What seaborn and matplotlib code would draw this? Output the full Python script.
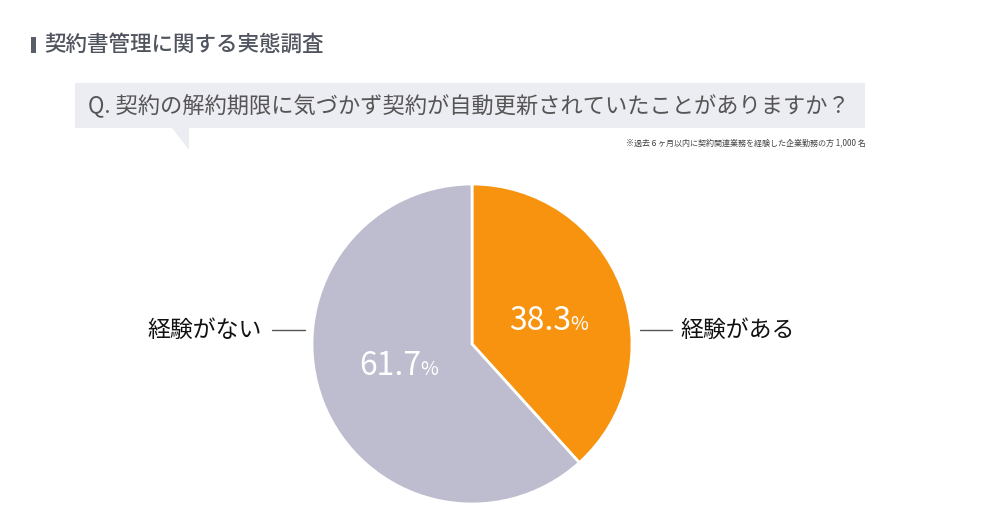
import numpy as np
import matplotlib.pyplot as plt
import matplotlib.patches as mpatches
import seaborn as sns

answers = ['経験がある', '経験がない']
shares = [38.3, 61.7]
slice_colors = ['#F7930F', '#BDBDCF']

title = '契約書管理に関する実態調査'
question = 'Q. 契約の解約期限に気づかず契約が自動更新されていたことがありますか？'
note = '※過去６ヶ月以内に契約関連業務を経験した企業勤務の方 1,000 名'

sns.set_theme(style='white')
plt.rcParams['font.family'] = ['Noto Sans CJK JP', 'DejaVu Sans']

H = 528
fig = plt.figure(figsize=(10, 5.28), dpi=100)
fig.patch.set_facecolor('white')
ax = fig.add_axes([0, 0, 1, 1])

# pie, clockwise from 12 o'clock
ax.pie(shares, colors=slice_colors, startangle=90, counterclock=False,
       center=(472, H - 344), radius=160,
       wedgeprops=dict(edgecolor='white', linewidth=2))
ax.set_xlim(0, 1000)
ax.set_ylim(0, H)
ax.set_aspect('equal')
ax.axis('off')

# percent labels (number + small %)
pct_pos = [(571, H - 330), (421, H - 375)]
for v, (x, y) in zip(shares, pct_pos):
    ax.text(x, y, f'{v:.1f}', ha='right', va='baseline', color='white',
            fontsize=23)
    ax.text(x - 1, y, '%', ha='left', va='baseline', color='white',
            fontsize=14)

# leader lines and labels
ax.plot([272, 305], [H - 330, H - 330], color='#555555', lw=1)
ax.plot([640, 672], [H - 330, H - 330], color='#555555', lw=1)
ax.text(262, H - 330, answers[1], ha='right', va='center', fontsize=16.5, color='#111111')
ax.text(680, H - 330, answers[0], ha='left', va='center', fontsize=16.5, color='#111111')

# header
ax.add_patch(mpatches.Rectangle((31, H - 53), 5, 16, color='#5a5e68', lw=0))
ax.text(44, H - 45, title, ha='left', va='center', fontsize=15.5,
        color='#50545e', fontweight='medium')

# question bubble
bubble = '#ECECF3'
ax.add_patch(mpatches.Rectangle((75, H - 128), 790, 45, color=bubble, lw=0))
ax.add_patch(mpatches.Polygon([(172, H - 128), (189, H - 128), (189, H - 150)],
                              closed=True, color=bubble, lw=0))
ax.text(88, H - 105, question, ha='left', va='center', fontsize=16, color='#555555')

ax.text(866, H - 143, note, ha='right', va='center', fontsize=5.8, color='#444444')

fig.savefig('out.png', dpi=100)
